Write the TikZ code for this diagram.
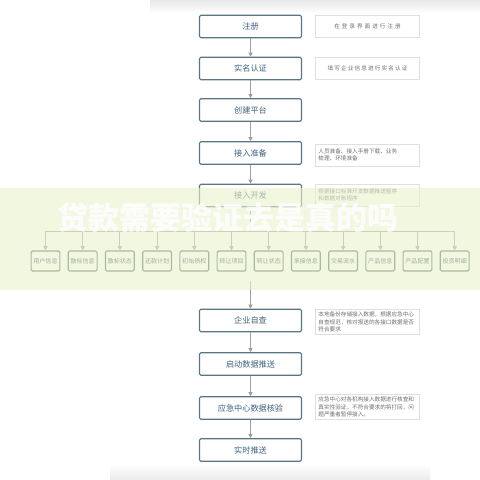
\documentclass[tikz,border=0pt]{standalone}
\usepackage{fontspec}
\setmainfont{Noto Sans CJK SC}
\XeTeXlinebreaklocale "zh"
\XeTeXlinebreakskip = 0pt plus 1pt
\usepackage{xcolor}
\usetikzlibrary{arrows.meta,positioning,calc,shadows}

\definecolor{boxline}{RGB}{88,118,132}
\definecolor{boxtext}{RGB}{62,98,128}
\definecolor{itemline}{RGB}{70,105,95}
\definecolor{notetext}{RGB}{110,110,110}
\definecolor{bandgreen}{RGB}{234,242,204}

\begin{document}
\begin{tikzpicture}[
    x=0.025cm, y=-0.025cm,
    >=Latex,
    step box/.style={draw=boxline, line width=0.8pt, rounded corners=1pt, fill=white, text=boxtext, font=\fontsize{5.8}{7}\selectfont, minimum width=2.55cm, minimum height=0.56cm, inner sep=1pt},
    note/.style={draw=gray!25, fill=white, text=notetext, font=\fontsize{4}{5.2}\selectfont, minimum width=2.58cm, minimum height=0.55cm, text width=2.45cm, align=left, inner sep=2pt, drop shadow={shadow xshift=0.3pt, shadow yshift=-0.3pt, opacity=0.15}},
    item/.style={draw=itemline, line width=0.8pt, rounded corners=1pt, fill=white, text=boxtext!80!black, font=\fontsize{4.3}{5}\selectfont, minimum width=0.72cm, minimum height=0.5cm, inner sep=0.5pt},
    arrow/.style={-{Triangle[width=3pt,length=3pt]}, draw=gray!75, line width=0.6pt}
]
\useasboundingbox (0,0) rectangle (480,480);
% faded edges of the screenshot
\shade[top color=gray!18, bottom color=white] (150,0) rectangle (480,13);
\shade[top color=white, bottom color=gray!16] (110,464) rectangle (430,480);

% main column
\node[step box] (reg) at (250.5,26.5) {注册};
\node[step box] (auth) at (250.5,68.5) {实名认证};
\node[step box] (plat) at (250.5,110) {创建平台};
\node[step box] (prep) at (250.5,153) {接入准备};
\node[step box] (dev) at (250.5,195.5) {接入开发};
\node[step box] (check) at (250.5,320.5) {企业自查};
\node[step box] (push) at (250.5,364) {启动数据推送};
\node[step box] (verify) at (250.5,408) {应急中心数据核验};
\node[step box] (live) at (250.5,450) {实时推送};

% notes
\node[note, align=center] (regnote) at (367.5,26.5) {在登录界面进行注册};
\node[note, align=center] (authnote) at (367.5,68.5) {填写企业信息进行实名认证};
\node[note] (prepnote) at (367.5,155) {人员准备、接入手册下载、业务\\梳理、环境准备};
\node[note] (devnote) at (367.5,195) {根据接口标准开发数据推送程序\\和数据对账程序};
\node[note] (checknote) at (367.5,322) {本地备份存储接入数据，根据应急中心\\自查规范，核对报送的各接口数据是否\\符合要求};
\node[note] (verifynote) at (367.5,407) {应急中心对各机构接入数据进行核查和\\真实性验证，不符合要求的将打回，问\\题严重者暂停接入。};

% data interfaces
\foreach \i/\txt in {1/用户信息,2/散标信息,3/散标状态,4/还款计划,5/初始债权,6/转让项目,7/转让状态,8/承接信息,9/交易流水,10/产品信息,11/产品配置,12/投资明细}
  \node[item] (r\i) at ({45.5+37.2*(\i-1)},261) {\txt};

\draw[arrow] (reg) -- (auth);
\draw[arrow] (auth) -- (plat);
\draw[arrow] (plat) -- (prep);
\draw[arrow] (prep) -- (dev);
\coordinate (hub) at (250.5,231);
\draw[draw=gray!75, line width=0.6pt] (dev) -- (hub);
\foreach \i in {1,...,12}
  \draw[arrow] (hub) -| (r\i);
\coordinate (gather) at (250.5,281);
\draw[arrow] (gather) -- (check);
\draw[arrow] (check) -- (push);
\draw[arrow] (push) -- (verify);
\draw[arrow] (verify) -- (live);

% overlay band and watermark
\fill[bandgreen, fill opacity=0.6] (0,188) rectangle (480,290);
\node[text=white, opacity=0.85, font=\fontsize{22}{25}\selectfont\bfseries] (mark) at (228,218) {贷款需要验证去是真的吗};
\end{tikzpicture}
\end{document}
